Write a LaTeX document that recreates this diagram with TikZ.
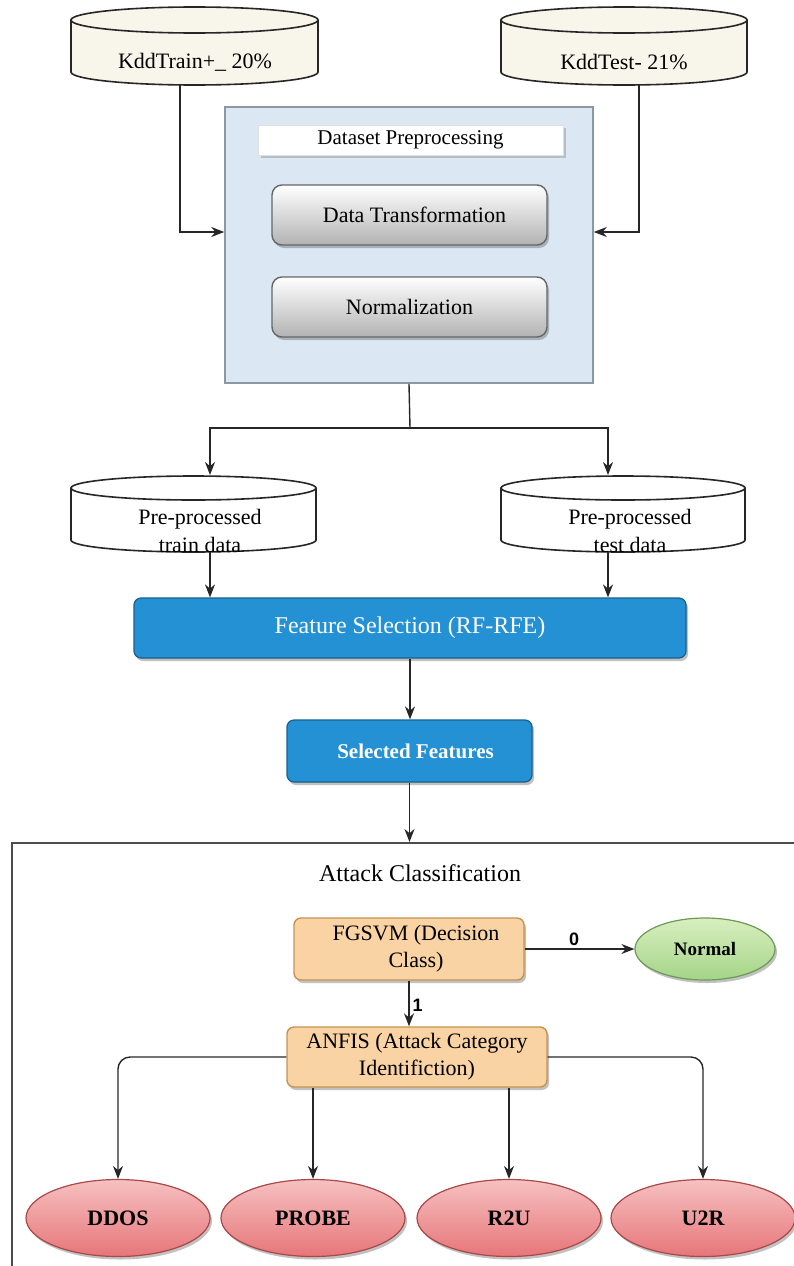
\documentclass[tikz,border=0pt]{standalone}
\usepackage{fontspec}
\setmainfont{Liberation Serif}
\setsansfont{Liberation Sans}
\usetikzlibrary{arrows.meta,shapes.geometric,shadows,calc}
\definecolor{cream}{HTML}{F8F5EA}
\definecolor{prefill}{HTML}{DBE8F4}
\definecolor{preborder}{HTML}{8A97A5}
\definecolor{bluebox}{HTML}{2491D4}
\definecolor{blueborder}{HTML}{1B5E8C}
\definecolor{orfill}{HTML}{F9D3A4}
\definecolor{orborder}{HTML}{C49352}
\definecolor{grtop}{HTML}{D8EFBF}
\definecolor{grbot}{HTML}{A5D488}
\definecolor{grborder}{HTML}{6B9A55}
\definecolor{rdtop}{HTML}{F7C0C0}
\definecolor{rdbot}{HTML}{E6767A}
\definecolor{rdborder}{HTML}{A84848}
\newcommand\drawcyl[6]{%
  \pgfmathsetmacro\cylrx{(#2-#1)/2}%
  \path[cylline, fill=#6] (#1,#3) -- (#1,#4)
    arc[start angle=180,end angle=360,x radius=\cylrx pt,y radius=#5 pt]
    -- (#2,#3)
    arc[start angle=0,end angle=180,x radius=\cylrx pt,y radius=#5 pt] -- cycle;
  \draw[cylline] (#1,#3) arc[start angle=180,end angle=360,x radius=\cylrx pt,y radius=#5 pt];
}
\tikzset{
  conn/.style={line width=1.4pt, draw=black!85},
  arr/.style={conn, -{Stealth[length=13pt,width=10pt]}},
  cylline/.style={line width=1.6pt, draw=black!85},
  cyltxt/.style={inner sep=0pt, align=center, font=\fontsize{22pt}{28pt}\selectfont},
  shad/.style={drop shadow={shadow xshift=2pt,shadow yshift=-3pt,opacity=0.35,fill=black!70}},
  prebox/.style={draw=preborder, line width=1.6pt, fill=prefill, minimum width=368pt, minimum height=276pt},
  lblbox/.style={draw=black!12, fill=white, minimum width=305pt, minimum height=30pt, inner sep=0pt,
    drop shadow={shadow xshift=3pt,shadow yshift=-3pt,opacity=0.4,fill=black!50},
    font=\fontsize{21pt}{25pt}\selectfont},
  graybtn/.style={rounded corners=10pt, draw=black!60, line width=1.4pt, top color=white, bottom color=black!30,
    minimum width=275pt, minimum height=60pt, inner sep=0pt, shad, font=\fontsize{22pt}{26pt}\selectfont},
  bluebtn/.style={rounded corners=7pt, draw=blueborder, line width=1.2pt, fill=bluebox, text=white,
    minimum height=60pt, inner sep=0pt, shad},
  frame/.style={draw=black!70, line width=2pt, inner sep=0pt},
  title/.style={font=\fontsize{24pt}{28pt}\selectfont},
  orbox/.style={rounded corners=7pt, draw=orborder, line width=1.4pt, fill=orfill, align=center,
    minimum height=62pt, inner sep=0pt, shad, font=\fontsize{22pt}{27pt}\selectfont},
  grell/.style={ellipse, draw=grborder, line width=1.2pt, top color=grtop, bottom color=grbot,
    minimum width=140pt, minimum height=62pt, inner sep=0pt, shad, font=\bfseries\fontsize{19pt}{22pt}\selectfont},
  rdell/.style={ellipse, draw=rdborder, line width=1.2pt, top color=rdtop, bottom color=rdbot,
    minimum width=184pt, minimum height=77pt, inner sep=0pt, shad, font=\bfseries\fontsize{22pt}{26pt}\selectfont},
  edgelbl/.style={font=\sffamily\bfseries\fontsize{18pt}{20pt}\selectfont, inner sep=3pt}
}
\begin{document}
\begin{tikzpicture}[x=1pt,y=-1pt]
\useasboundingbox (0,0) rectangle (794,1266);
\clip (0,0) rectangle (794,1266);

% input cylinders
\drawcyl{71}{318}{20}{72}{13}{cream}
\drawcyl{501}{747}{20}{72}{13}{cream}
\node[cyltxt] (train) at (195,62) {KddTrain+\_ 20\%};
\node[cyltxt] (test) at (624,62) {KddTest- 21\%};
\coordinate (trainout) at (180,85);
\coordinate (testout) at (639,85);

% preprocessing block
\node[prebox] (pre) at (409,245) {};
\node[lblbox] (dsp) at (410.5,140) {Dataset Preprocessing};
\node[graybtn] (dt) at (409.5,215) {\hspace*{10pt}Data Transformation};
\node[graybtn] (norm) at (409.5,307) {Normalization};

\draw[arr] (trainout) |- ([yshift=13pt]pre.west);
\draw[arr] (testout) |- ([yshift=13pt]pre.east);

% pre-processed cylinders
\drawcyl{71}{316}{488}{540}{12}{white}
\drawcyl{501}{745}{488}{540}{12}{white}
\node[cyltxt] (ptrain) at (200,531) {Pre-processed\\train data};
\node[cyltxt] (ptest) at (630,531) {Pre-processed\\test data};
\coordinate (ptrin) at (210,475);
\coordinate (ptein) at (608,475);
\coordinate (ptrout) at (210,552);
\coordinate (pteout) at (608,552);
\coordinate (split) at (410,428);

\draw[conn] (pre.south) -- (split);
\draw[arr] (split) -| (ptrin);
\draw[arr] (split) -| (ptein);

% feature selection
\node[bluebtn, minimum width=552pt, font=\fontsize{24pt}{28pt}\selectfont] (fs) at (410,628) {Feature Selection (RF-RFE)};
\node[bluebtn, minimum width=245pt, minimum height=62pt, font=\bfseries\fontsize{21pt}{26pt}\selectfont] (sf) at (409.5,751) {\hspace*{12pt}Selected Features};
\draw[arr] (ptrout) -- (ptrout |- fs.north);
\draw[arr] (pteout) -- (pteout |- fs.north);
\draw[arr] (fs.south) -- (fs.south |- sf.north);

% attack classification frame
\node[frame, anchor=north west, minimum width=820pt, minimum height=460pt] (attack) at (11,842) {};
\draw[arr] (sf.south) -- (sf.south |- attack.north);
\node[title] (atitle) at (420,873) {Attack Classification};

\node[orbox, minimum width=230pt] (fg) at (409,949) {\hspace*{14pt}FGSVM (Decision\\\hspace*{14pt}Class)};
\node[grell] (normal) at (705,949) {Normal};
\node[orbox, minimum width=260pt, minimum height=60pt] (anfis) at (417,1057) {ANFIS (Attack Category\\Identifiction)};

\draw[arr] (fg.east) -- (normal.west) node[edgelbl, pos=0.45, above] {0};
\draw[arr] (fg.south) -- (fg.south |- anfis.north) node[edgelbl, pos=0.55, right] {1};

\node[rdell] (ddos) at (118,1218) {DDOS};
\node[rdell] (probe) at (313,1218) {PROBE};
\node[rdell] (r2u) at (509,1218) {R2U};
\node[rdell] (u2r) at (703,1218) {U2R};

\draw[arr, rounded corners=12pt] (anfis.west) -| (ddos.north);
\draw[arr, rounded corners=12pt] (anfis.east) -| (u2r.north);
\draw[arr] (probe.north |- anfis.south) -- (probe.north);
\draw[arr] (r2u.north |- anfis.south) -- (r2u.north);
\end{tikzpicture}
\end{document}
